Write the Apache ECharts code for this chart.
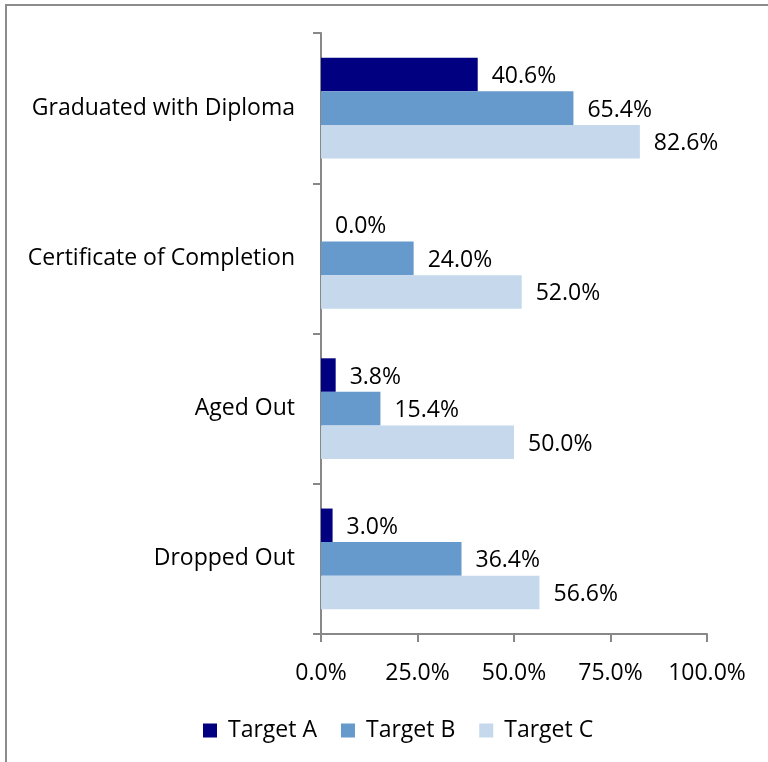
<!DOCTYPE html>
<html>
<head>
<meta charset="utf-8">
<script src="https://cdn.jsdelivr.net/npm/echarts@6/dist/echarts.min.js"></script>
<style>
  html, body { margin: 0; padding: 0; background: #fff; }
  #chart { width: 768px; height: 762px; }
</style>
</head>
<body>
<div id="chart"></div>
<script>
// categories top to bottom
const categories = ["Graduated with Diploma", "Certificate of Completion", "Aged Out", "Dropped Out"];
const seriesNames = ["Target A", "Target B", "Target C"];
const targetA = [40.6, 0.0, 3.8, 3.0];
const targetB = [65.4, 24.0, 15.4, 36.4];
const targetC = [82.6, 52.0, 50.0, 56.6];
const xTicks = [0, 25, 50, 75, 100];
const colors = ["#000080", "#6699cc", "#c5d8ec"];

const font = "'Open Sans', 'Liberation Sans', sans-serif";
const fs = 23;
const chart = echarts.init(document.getElementById("chart"));

function makeSeries(name, data, color) {
  return {
    name: name,
    type: "bar",
    data: data,
    barGap: "0%",
    barCategoryGap: "33%",
    itemStyle: { color: color },
    label: {
      show: true,
      position: "right",
      distance: 14,
      offset: [0, 2],
      color: "#000",
      fontSize: fs,
      fontFamily: font,
      formatter: p => p.value.toFixed(1) + "%"
    }
  };
}

chart.setOption({
  animation: false,
  graphic: [{
    type: "rect",
    shape: { x: 6, y: 5, width: 900, height: 900 },
    style: { fill: "none", stroke: "#8c8c8c", lineWidth: 2 }
  }],
  grid: { left: 321, right: 61, top: 33, bottom: 128 },
  legend: {
    bottom: 20,
    left: 203,
    padding: 0,
    itemWidth: 14,
    itemHeight: 14,
    itemGap: 24,
    icon: "rect",
    textStyle: { fontSize: fs, fontFamily: font, color: "#000", padding: [0, 0, 0, 6] },
    data: seriesNames
  },
  xAxis: {
    type: "value",
    min: xTicks[0],
    max: xTicks[xTicks.length - 1],
    interval: 25,
    splitLine: { show: false },
    axisLine: { show: true, lineStyle: { color: "#888", width: 2 } },
    axisTick: { show: true, length: 8, lineStyle: { color: "#888", width: 2 } },
    axisLabel: {
      margin: 28,
      fontSize: fs,
      fontFamily: font,
      color: "#000",
      formatter: v => v.toFixed(1) + "%"
    }
  },
  yAxis: {
    type: "category",
    data: categories,
    inverse: true,
    axisLine: { show: true, lineStyle: { color: "#888", width: 2 } },
    axisTick: { show: true, length: 8, lineStyle: { color: "#888", width: 2 } },
    axisLabel: {
      margin: 26,
      fontSize: fs,
      fontFamily: font,
      color: "#000"
    }
  },
  series: [
    makeSeries(seriesNames[0], targetA, colors[0]),
    makeSeries(seriesNames[1], targetB, colors[1]),
    makeSeries(seriesNames[2], targetC, colors[2])
  ]
});
</script>
</body>
</html>
